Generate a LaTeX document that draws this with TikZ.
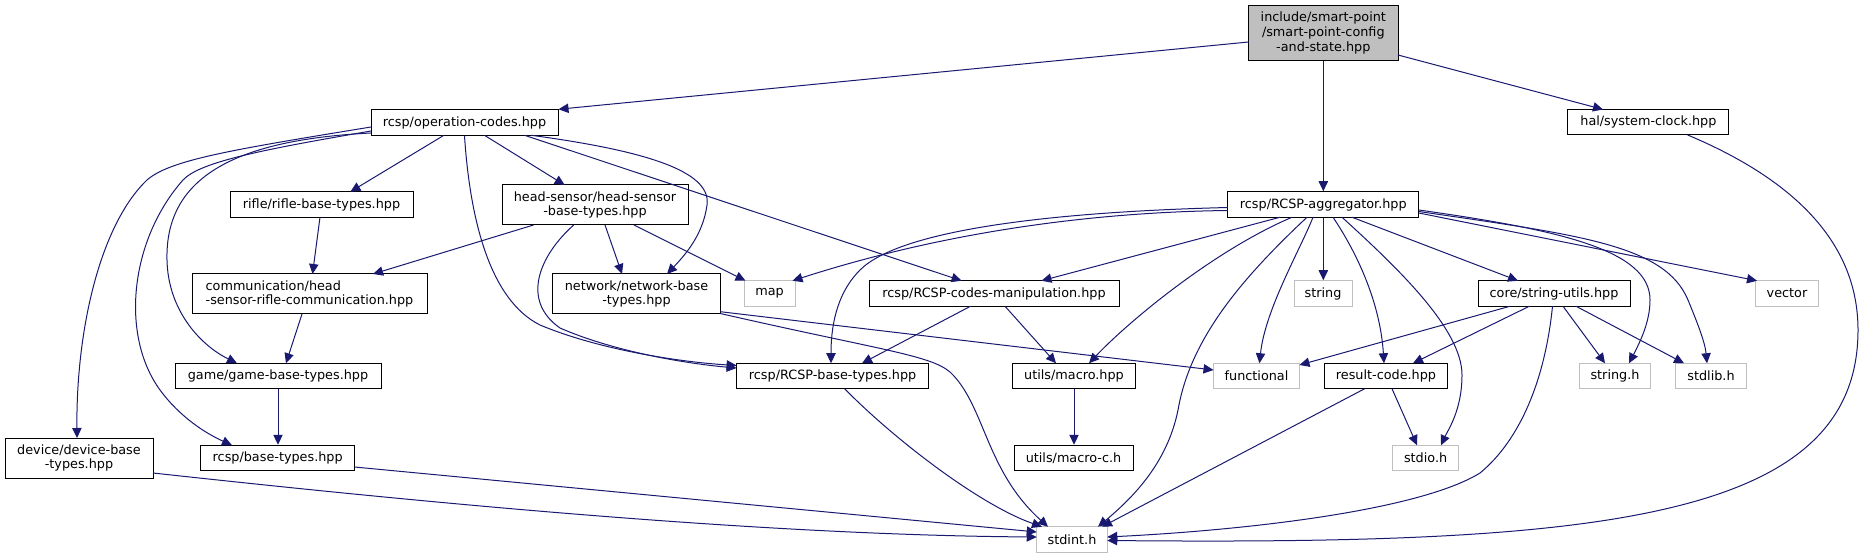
\documentclass[tikz,border=0pt]{standalone}
\usepackage{fontspec}
\setmainfont{DejaVu Sans}
\usetikzlibrary{arrows.meta,calc}
\definecolor{edgecol}{HTML}{191970}
\definecolor{lgray}{HTML}{BFBFBF}
\begin{document}
\begin{tikzpicture}[x=0.75pt,y=-0.75pt,
  font=\fontsize{9.6pt}{11pt}\selectfont,
  nd/.style={draw=black, line width=0.75pt, fill=white, inner sep=0pt, align=center},
  doc/.style={nd},
  ext/.style={nd, draw=lgray},
  root/.style={nd, fill=lgray},
  bx/.style 2 args={minimum width=#1*0.75pt, minimum height=#2*0.75pt},
  ed/.style={draw=edgecol, line width=0.75pt, -{Triangle[length=7.5pt,width=7pt]}}]
\useasboundingbox (0,0) rectangle (1862,559);
% nodes
\node[root, bx={149.4}{55}] (top) at (1323.3,33) {include/smart-point\\/smart-point-config\\-and-state.hpp};
\node[doc, bx={187}{25.5}] (opc) at (464.5,122.5) {rcsp/operation-codes.hpp};
\node[doc, bx={161}{25.5}] (clk) at (1648.4,122.2) {hal/system-clock.hpp};
\node[doc, bx={183}{25.5}] (rifle) at (321.5,204.5) {rifle/rifle-base-types.hpp};
\node[doc, bx={186}{40}] (hs) at (595,205) {head-sensor/head-sensor\\-base-types.hpp};
\node[doc, bx={191}{25.5}] (agg) at (1323.3,204.5) {rcsp/RCSP-aggregator.hpp};
\node[doc, bx={235}{40}, align=left] (comm) at (309.5,294) {communication/head\\-sensor-rifle-communication.hpp};
\node[doc, bx={167.5}{40}] (net) at (636.5,294) {network/network-base\\-types.hpp};
\node[ext, bx={51}{25.5}] (map) at (769.5,293.5) {map};
\node[doc, bx={250}{25.5}] (man) at (994,293.5) {rcsp/RCSP-codes-manipulation.hpp};
\node[ext, bx={58}{25.5}] (str) at (1323,293.5) {string};
\node[doc, bx={152}{25.5}] (su) at (1554,293.5) {core/string-utils.hpp};
\node[ext, bx={62.5}{25.5}] (vec) at (1787,293.5) {vector};
\node[doc, bx={206}{25.5}] (game) at (278,376) {game/game-base-types.hpp};
\node[doc, bx={192}{25.5}] (rbt) at (832.6,376) {rcsp/RCSP-base-types.hpp};
\node[doc, bx={123}{25.5}] (mac) at (1074,376) {utils/macro.hpp};
\node[ext, bx={86}{25.5}] (fun) at (1256.5,376) {functional};
\node[doc, bx={122.5}{25.5}] (rc) at (1386,376) {result-code.hpp};
\node[ext, bx={70.5}{25.5}] (strh) at (1615,376) {string.h};
\node[ext, bx={71}{25.5}] (stdlib) at (1711,376) {stdlib.h};
\node[doc, bx={148}{40}] (dev) at (79,458) {device/device-base\\-types.hpp};
\node[doc, bx={153.5}{25.5}] (bt) at (277.7,458) {rcsp/base-types.hpp};
\node[doc, bx={119}{25.5}] (macc) at (1073.5,458) {utils/macro-c.h};
\node[ext, bx={66}{25.5}] (stdio) at (1425.6,458) {stdio.h};
\node[ext, bx={70.5}{25.5}] (stdint) at (1072,539.5) {stdint.h};
% edges
\draw[ed] ($(top)+(-74.7,9)$) -- (opc.north east);
\draw[ed] (top.south) -- (agg.north);
\draw[ed] ($(top)+(74.7,22)$) -- ($(clk)+(-45.4,-12.75)$);
\draw[ed] ($(clk)+(39.2,12.75)$) .. controls (1790,178) and (1858,240) .. (1858,330) .. controls (1858,520) and (1600,545) .. ($(stdint)+(35.25,1)$);
\draw[ed] ($(opc)+(-20.5,12.75)$) -- ($(rifle)+(28.9,-12.75)$);
\draw[ed] ($(opc)+(19.9,12.75)$) -- ($(hs)+(-30.3,-20)$);
\draw[ed] ($(opc)+(-93.5,4.5)$) .. controls (230,150) and (170,160) .. (147,180) .. controls (100,225) and (76,330) .. ($(dev)+(-2,-20)$);
\draw[ed] ($(opc)+(-93.5,8.5)$) .. controls (260,150) and (200,162) .. (183,180) .. controls (130,240) and (120,335) .. (160,390) .. controls (180,417) and (205,433) .. ($(bt)+(-45.7,-12.75)$);
\draw[ed] ($(opc)+(-93.5,10.5)$) .. controls (230,140) and (165,180) .. (167,260) .. controls (168,310) and (200,345) .. ($(game)+(-41,-12.75)$);
\draw[ed] (opc.south) .. controls (470,220) and (490,300) .. (540,325) .. controls (600,350) and (680,362) .. ($(rbt)+(-96,-10.5)$);
\draw[ed] ($(opc)+(66.5,12.75)$) .. controls (640,150) and (712,170) .. (707,205) .. controls (703,235) and (685,255) .. ($(net)+(30.5,-20)$);
\draw[ed] ($(opc)+(60,12.75)$) -- ($(man)+(-32.4,-12.75)$);
\draw[ed] ($(rifle)+(-1.5,12.75)$) -- ($(comm)+(3,-20)$);
\draw[ed] ($(hs)+(-61.5,20)$) -- ($(comm)+(63.5,-20)$);
\draw[ed] ($(hs)+(10,20)$) -- ($(net)+(-14.5,-20)$);
\draw[ed] ($(hs)+(39,20)$) -- ($(map)+(-24,-12.75)$);
\draw[ed] ($(hs)+(-21.3,20)$) .. controls (540,255) and (520,300) .. (560,328) .. controls (610,350) and (680,363) .. ($(rbt)+(-96,-8)$);
\draw[ed] ($(comm)+(-7.5,20)$) -- ($(game)+(8,-12.75)$);
\draw[ed] (game.south) -- (game.south |- bt.north);
\draw[ed] ($(dev)+(74,15)$) .. controls (400,500) and (750,535) .. ($(stdint)+(-35.25,-2.5)$);
\draw[ed] ($(bt)+(76.75,9)$) -- ($(stdint)+(-35.25,-7.5)$);
\draw[ed] ($(net)+(83.75,17.7)$) -- ($(fun)+(-43,-6)$);
\draw[ed] ($(net)+(83.75,19.5)$) .. controls (880,350) and (930,355) .. (950,372) .. controls (985,405) and (985,470) .. ($(stdint)+(-24,-12.75)$);
\draw[ed] ($(man)+(-23.5,12.75)$) -- ($(rbt)+(29.4,-12.75)$);
\draw[ed] ($(man)+(11,12.75)$) -- ($(mac)+(-18,-12.75)$);
\draw[ed] ($(rbt)+(12,12.75)$) .. controls (895,440) and (980,505) .. ($(stdint)+(-30,-12.75)$);
\draw[ed] (mac.south) -- (mac.south |- macc.north);
\draw[ed] ($(agg)+(-95.5,6)$) .. controls (1100,212) and (950,230) .. ($(map)+(23,-12.75)$);
\draw[ed] ($(agg)+(-95.5,3)$) .. controls (1050,212) and (900,230) .. (860,270) .. controls (835,295) and (831,330) .. ($(rbt)+(-1.6,-12.75)$);
\draw[ed] ($(agg)+(-43.3,12.75)$) -- ($(man)+(47.5,-12.75)$);
\draw[ed] ($(agg)+(-31.3,12.75)$) .. controls (1215,250) and (1130,320) .. ($(mac)+(15,-12.75)$);
\draw[ed] ($(agg)+(-16.3,12.75)$) .. controls (1240,280) and (1190,340) .. (1178,410) .. controls (1167,465) and (1130,500) .. ($(stdint)+(26,-12.75)$);
\draw[ed] ($(agg)+(-10.3,12.75)$) .. controls (1300,250) and (1265,310) .. ($(fun)+(3,-12.75)$);
\draw[ed] (agg.south) -- (agg.south |- str.north);
\draw[ed] ($(agg)+(9.7,12.75)$) .. controls (1355,250) and (1380,300) .. ($(rc)+(-2,-12.75)$);
\draw[ed] ($(agg)+(18.7,12.75)$) .. controls (1400,270) and (1462,330) .. (1462,375) .. controls (1462,410) and (1448,430) .. ($(stdio)+(15.4,-12.75)$);
\draw[ed] ($(agg)+(28.7,12.75)$) -- ($(su)+(-36,-12.75)$);
\draw[ed] ($(agg)+(95.5,5.5)$) .. controls (1560,230) and (1650,250) .. (1650,300) .. controls (1650,322) and (1640,342) .. ($(strh)+(14,-12.75)$);
\draw[ed] ($(agg)+(95.5,7)$) .. controls (1580,235) and (1665,245) .. (1688,300) .. controls (1697,322) and (1705,342) .. ($(stdlib)+(-4,-12.75)$);
\draw[ed] ($(agg)+(95.5,8.5)$) -- ($(vec)+(-30,-12.75)$);
\draw[ed] ($(su)+(-44,12.75)$) -- ($(fun)+(43,-11)$);
\draw[ed] ($(su)+(-24.7,12.75)$) -- ($(rc)+(27,-12.75)$);
\draw[ed] ($(su)+(9,12.75)$) -- ($(strh)+(-10,-12.75)$);
\draw[ed] ($(su)+(22,12.75)$) -- ($(stdlib)+(-27,-12.75)$);
\draw[ed] ($(su)+(-1.5,12.75)$) .. controls (1545,380) and (1520,440) .. (1480,473) .. controls (1420,510) and (1250,530) .. ($(stdint)+(35.25,-2.5)$);
\draw[ed] ($(rc)+(6,12.75)$) -- ($(stdio)+(-8.6,-12.75)$);
\draw[ed] ($(rc)+(-21.4,12.75)$) -- ($(stdint)+(30,-12.75)$);
\end{tikzpicture}
\end{document}
